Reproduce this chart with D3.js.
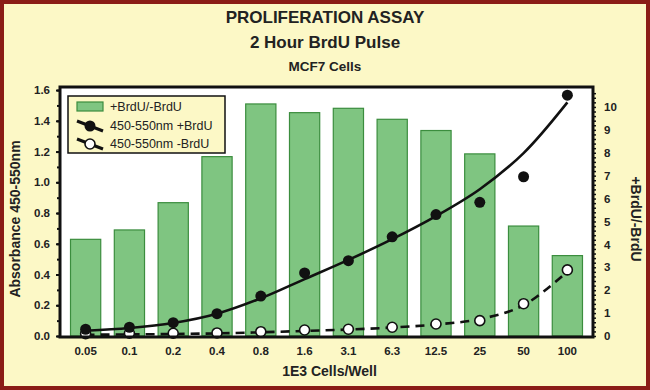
<!DOCTYPE html>
<meta charset="utf-8">
<style>
body { margin: 0; background: #fcf8c6; }
svg { display: block; font-family: "Liberation Sans", Arial, sans-serif; }
.tick text { font-weight: bold; font-size: 11.5px; fill: #222; }
</style>
<body>
<svg id="chart" width="650" height="390"></svg>
<script src="https://d3js.org/d3.v7.min.js"></script>
<script>
// cells per well (x 1000)
var cells = ["0.05", "0.1", "0.2", "0.4", "0.8", "1.6", "3.1", "6.3", "12.5", "25", "50", "100"];
// +BrdU/-BrdU ratio (right axis)
var ratio = [4.22, 4.63, 5.82, 7.83, 10.13, 9.75, 9.94, 9.46, 8.97, 7.95, 4.80, 3.51];
// absorbance 450-550nm (left axis)
var absPlus  = [0.044, 0.057, 0.087, 0.145, 0.26, 0.41, 0.49, 0.645, 0.79, 0.87, 1.036, 1.567];
var absMinus = [0.015, 0.018, 0.018, 0.02, 0.028, 0.039, 0.044, 0.057, 0.078, 0.10, 0.21, 0.43];
// fitted curves as drawn
var fitPlus  = [0.034, 0.052, 0.085, 0.145, 0.245, 0.37, 0.495, 0.63, 0.78, 0.955, 1.19, 1.52];
var fitMinus = [0.008, 0.01, 0.013, 0.017, 0.024, 0.033, 0.042, 0.055, 0.075, 0.11, 0.20, 0.42];
var leftTicks = [0, 0.2, 0.4, 0.6, 0.8, 1.0, 1.2, 1.4, 1.6];
var rightTicks = [0, 1, 2, 3, 4, 5, 6, 7, 8, 9, 10];

var svg = d3.select("#chart");
var W = 650, H = 390;
var plot = {left: 60, right: 593, top: 87, bottom: 337};

// outer frame
svg.append("rect").attr("x", 2).attr("y", 2).attr("width", W - 4).attr("height", H - 4)
  .attr("fill", "#fcf8c6").attr("stroke", "#8a1d16").attr("stroke-width", 4);

// titles
svg.append("text").attr("x", 325).attr("y", 23).attr("text-anchor", "middle")
  .attr("font-weight", "bold").attr("font-size", 17).attr("fill", "#222").text("PROLIFERATION ASSAY");
svg.append("text").attr("x", 325).attr("y", 48).attr("text-anchor", "middle")
  .attr("font-weight", "bold").attr("font-size", 17).attr("fill", "#222").text("2 Hour BrdU Pulse");
svg.append("text").attr("x", 325).attr("y", 71).attr("text-anchor", "middle")
  .attr("font-weight", "bold").attr("font-size", 13.5).attr("fill", "#222").text("MCF7 Cells");

var x = d3.scaleBand().domain(cells).range([plot.left, plot.right]).paddingInner(0.31).paddingOuter(0.24);
var y = d3.scaleLinear().domain([0, 1.62]).range([plot.bottom - 1, plot.top]);
var y2 = d3.scaleLinear().domain([0, 10.87]).range([plot.bottom - 1, plot.top]);

// plot background
svg.append("rect").attr("x", plot.left).attr("y", plot.top)
  .attr("width", plot.right - plot.left).attr("height", plot.bottom - plot.top).attr("fill", "#fff");

// bars
svg.selectAll(".bar").data(ratio).enter().append("rect")
  .attr("x", function(d, i) { return x(cells[i]); })
  .attr("y", function(d) { return y2(d); })
  .attr("width", x.bandwidth())
  .attr("height", function(d) { return y2(0) - y2(d); })
  .attr("fill", "#7fc581").attr("stroke", "#3b8d3e").attr("stroke-width", 1.2);

var cx = function(i) { return x(cells[i]) + x.bandwidth() / 2; };

// fit lines
var line = d3.line().x(function(d, i) { return cx(i); }).y(function(d) { return y(d); }).curve(d3.curveCatmullRom.alpha(0.5));
svg.append("path").datum(fitMinus).attr("d", line).attr("fill", "none")
  .attr("stroke", "#111").attr("stroke-width", 2.6).attr("stroke-dasharray", "9,6");
svg.append("path").datum(fitPlus).attr("d", line).attr("fill", "none")
  .attr("stroke", "#111").attr("stroke-width", 2.6);

// points
svg.selectAll(".minus").data(absMinus).enter().append("circle")
  .attr("cx", function(d, i) { return cx(i); }).attr("cy", function(d) { return y(d); })
  .attr("r", 5).attr("fill", "#fff").attr("stroke", "#111").attr("stroke-width", 1.6);
svg.selectAll(".plus").data(absPlus).enter().append("circle")
  .attr("cx", function(d, i) { return cx(i); }).attr("cy", function(d) { return y(d); })
  .attr("r", 5.5).attr("fill", "#111");

// axes
var minorLeft = d3.range(0, 1.61, 0.1);
svg.append("g").attr("transform", "translate(" + plot.left + ",0)")
  .call(d3.axisLeft(y).tickValues(minorLeft).tickSize(3).tickFormat(""))
  .call(function(g) { g.select(".domain").remove(); g.selectAll("line").attr("stroke", "#111").attr("stroke-width", 2); });
svg.append("g").attr("transform", "translate(" + plot.left + ",0)")
  .call(d3.axisLeft(y).tickValues(leftTicks).tickSize(4).tickPadding(6).tickFormat(d3.format(".1f")))
  .call(function(g) { g.select(".domain").remove(); g.selectAll("line").attr("stroke", "#111").attr("stroke-width", 2); });

svg.append("g").attr("transform", "translate(" + plot.right + ",0)")
  .call(d3.axisRight(y2).tickValues(d3.range(0, 10.8, 0.2)).tickSize(3).tickFormat(""))
  .call(function(g) { g.select(".domain").remove(); g.selectAll("line").attr("stroke", "#111").attr("stroke-width", 1.5); });
svg.append("g").attr("transform", "translate(" + plot.right + ",0)")
  .call(d3.axisRight(y2).tickValues(rightTicks).tickSize(0).tickPadding(11))
  .call(function(g) { g.select(".domain").remove(); });

svg.append("g").attr("transform", "translate(0," + plot.bottom + ")")
  .call(d3.axisBottom(x).tickSize(0).tickPadding(10))
  .call(function(g) { g.select(".domain").remove(); });

// plot frame
svg.append("rect").attr("x", plot.left).attr("y", plot.top)
  .attr("width", plot.right - plot.left).attr("height", plot.bottom - plot.top)
  .attr("fill", "none").attr("stroke", "#111").attr("stroke-width", 3);

// axis titles
svg.append("text").attr("transform", "translate(20,219) rotate(-90)")
  .attr("text-anchor", "middle").attr("font-size", 14).attr("font-weight", "bold").attr("fill", "#222")
  .text("Absorbance 450-550nm");
svg.append("text").attr("transform", "translate(631,219) rotate(90)")
  .attr("text-anchor", "middle").attr("font-size", 14).attr("font-weight", "bold").attr("fill", "#222")
  .text("+BrdU/-BrdU");
svg.append("text").attr("x", (plot.left + plot.right) / 2 + 3).attr("y", 376)
  .attr("text-anchor", "middle").attr("font-size", 14).attr("font-weight", "bold").attr("fill", "#222")
  .text("1E3 Cells/Well");

// legend
var lg = svg.append("g");
lg.append("rect").attr("x", 68).attr("y", 96).attr("width", 157).attr("height", 57)
  .attr("fill", "#fcf8c6").attr("stroke", "#111").attr("stroke-width", 1.5);
lg.append("rect").attr("x", 77).attr("y", 102).attr("width", 26).attr("height", 9)
  .attr("fill", "#7fc581").attr("stroke", "#3b8d3e").attr("stroke-width", 1.2);
lg.append("line").attr("x1", 77).attr("y1", 121).attr("x2", 103).attr("y2", 131)
  .attr("stroke", "#111").attr("stroke-width", 3);
lg.append("circle").attr("cx", 90).attr("cy", 126).attr("r", 5.5).attr("fill", "#111");
lg.append("line").attr("x1", 77).attr("y1", 139).attr("x2", 103).attr("y2", 149)
  .attr("stroke", "#111").attr("stroke-width", 3);
lg.append("circle").attr("cx", 90).attr("cy", 144).attr("r", 5).attr("fill", "#fff").attr("stroke", "#111").attr("stroke-width", 1.6);
var labels = ["+BrdU/-BrdU", "450-550nm +BrdU", "450-550nm -BrdU"];
lg.selectAll(".lt").data(labels).enter().append("text")
  .attr("x", 110).attr("y", function(d, i) { return 107 + i * 18.5; }).attr("dy", "0.35em")
  .attr("font-size", 12.5).attr("fill", "#222").text(function(d) { return d; });
</script>
</body>
